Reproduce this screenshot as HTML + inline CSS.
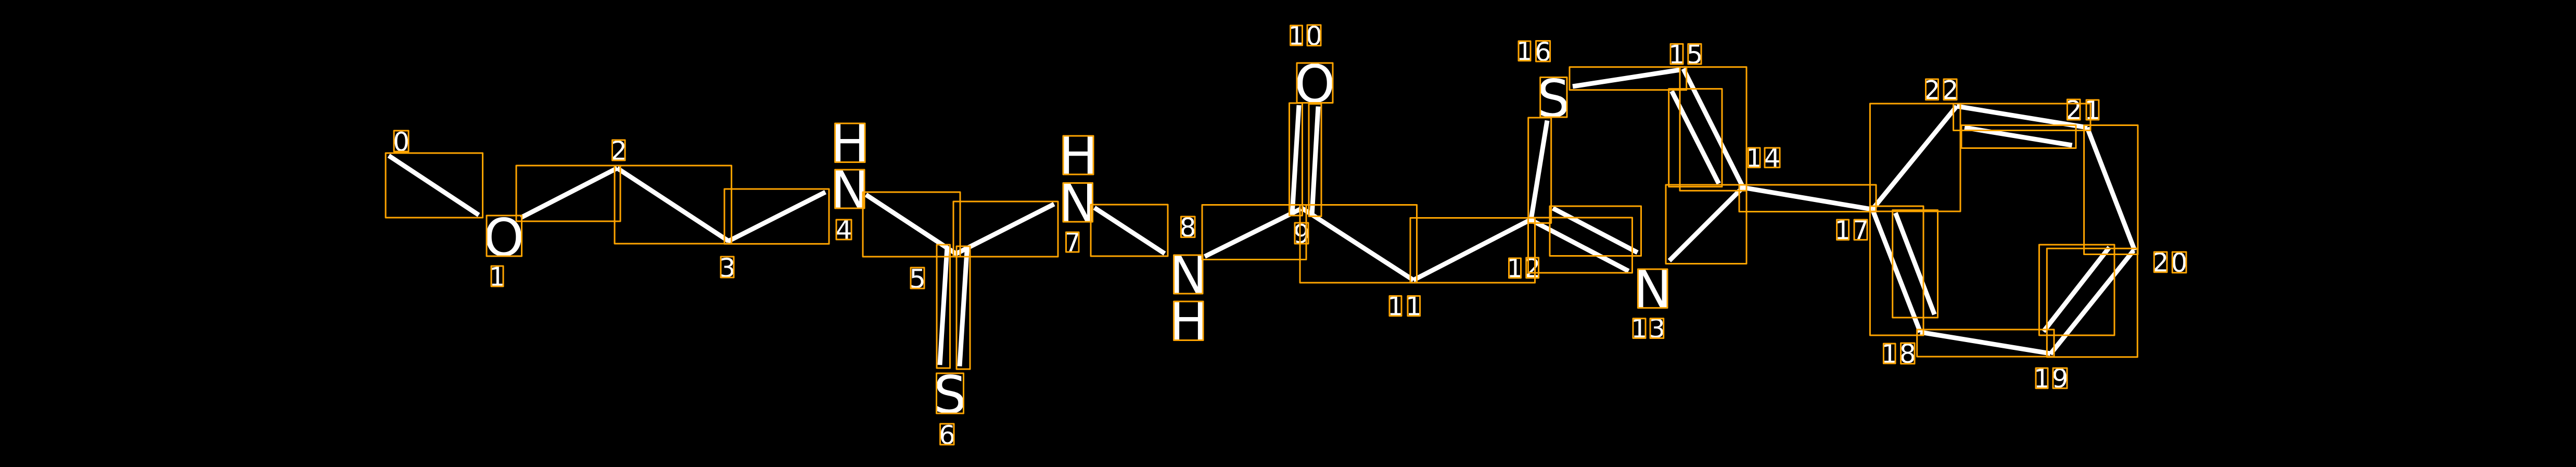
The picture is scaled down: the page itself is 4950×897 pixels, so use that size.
<!DOCTYPE html>
<html><head><meta charset="utf-8"><style>
html,body{margin:0;padding:0;background:#000;width:4950px;height:897px;overflow:hidden}
svg{display:block}
.b{stroke:#fff;stroke-width:9;fill:none}
.r rect{fill:none;stroke:#ffa500;stroke-width:3;stroke-linejoin:round}
text{font-family:"DejaVu Sans","Liberation Sans",sans-serif;fill:#fff;text-anchor:middle}
.a{font-size:100px}.d{font-size:50px}
</style></head><body>
<svg xmlns="http://www.w3.org/2000/svg" width="4950" height="897" viewBox="0 0 4950 897">
<rect width="4950" height="897" fill="#000"/>
<g class="b">
<line x1="747" y1="299" x2="920" y2="413"/>
<line x1="1001" y1="418" x2="1186" y2="323"/>
<line x1="1186" y1="323" x2="1400" y2="463"/>
<line x1="1398" y1="464" x2="1586" y2="369"/>
<line x1="1664" y1="374" x2="1838" y2="488"/>
<line x1="1836" y1="488" x2="2025.5" y2="392"/>
<line x1="1820" y1="475" x2="1806" y2="701"/>
<line x1="1858.4" y1="476" x2="1844" y2="703.5"/>
<line x1="2103" y1="399" x2="2238" y2="487"/>
<line x1="2315" y1="492.6" x2="2500" y2="401"/>
<line x1="2496" y1="202" x2="2483" y2="412"/>
<line x1="2533" y1="204.5" x2="2521" y2="414"/>
<line x1="2502" y1="400" x2="2716" y2="538"/>
<line x1="2716" y1="538" x2="2941" y2="422"/>
<line x1="2973" y1="231.5" x2="2942" y2="422"/>
<line x1="3022" y1="166" x2="3229" y2="134"/>
<line x1="3234.6" y1="132" x2="3350" y2="361"/>
<line x1="3212.4" y1="175" x2="3302.7" y2="352.6"/>
<line x1="3207.8" y1="500.7" x2="3347" y2="362"/>
<line x1="2941" y1="422" x2="3129.4" y2="520.6"/>
<line x1="2984" y1="400" x2="3146.6" y2="485"/>
<line x1="3348" y1="360" x2="3597" y2="402"/>
<line x1="3598" y1="402" x2="3760" y2="204"/>
<line x1="3760" y1="204" x2="4011" y2="245"/>
<line x1="3775" y1="245" x2="3981.6" y2="279"/>
<line x1="4010.7" y1="245" x2="4102" y2="481"/>
<line x1="4100" y1="481" x2="3940" y2="680"/>
<line x1="4053.3" y1="475" x2="3926.7" y2="636.7"/>
<line x1="3940" y1="679" x2="3690" y2="638"/>
<line x1="3598" y1="402" x2="3690" y2="638"/>
<line x1="3642.3" y1="409" x2="3717.3" y2="604"/>
</g>
<g>
<text class="a" x="968" y="491">O</text>
<text class="a" x="1633" y="310">H</text>
<text class="a" x="1633" y="399">N</text>
<text class="a" x="1825.5" y="793">S</text>
<text class="a" x="2072" y="334">H</text>
<text class="a" x="2071" y="425">N</text>
<text class="a" x="2283.5" y="563">N</text>
<text class="a" x="2284" y="652">H</text>
<text class="a" x="2526.5" y="196">O</text>
<text class="a" x="2985" y="224">S</text>
<text class="a" x="3175.5" y="590">N</text>
<text class="d" x="771" y="290">0</text>
<text class="d" x="955.5" y="549">1</text>
<text class="d" x="1189" y="307">2</text>
<text class="d" x="1397.5" y="532">3</text>
<text class="d" x="1621.5" y="459">4</text>
<text class="d" x="1763" y="553">5</text>
<text class="d" x="1820" y="853">6</text>
<text class="d" x="2061" y="483">7</text>
<text class="d" x="2282.5" y="454.6">8</text>
<text class="d" x="2501" y="467">9</text>
<text class="d" x="2491" y="86">1</text>
<text class="d" x="2525" y="86.6">0</text>
<text class="d" x="2681.5" y="605.7">1</text>
<text class="d" x="2716.8" y="605.7">1</text>
<text class="d" x="2911" y="532.7">1</text>
<text class="d" x="2944.6" y="532.7">2</text>
<text class="d" x="3150" y="648.5">1</text>
<text class="d" x="3184" y="648.5">3</text>
<text class="d" x="3370.7" y="320.6">1</text>
<text class="d" x="3405.5" y="320.6">4</text>
<text class="d" x="3222" y="122">1</text>
<text class="d" x="3256.4" y="122">5</text>
<text class="d" x="2929.5" y="115.6">1</text>
<text class="d" x="2965" y="117">6</text>
<text class="d" x="3541" y="459.6">1</text>
<text class="d" x="3575.5" y="459.6">7</text>
<text class="d" x="3630.7" y="697">1</text>
<text class="d" x="3665.8" y="697">8</text>
<text class="d" x="3923.5" y="744.5">1</text>
<text class="d" x="3958.5" y="744.5">9</text>
<text class="d" x="4151.5" y="521.7">2</text>
<text class="d" x="4187.5" y="522">0</text>
<text class="d" x="3984.7" y="229">2</text>
<text class="d" x="4021" y="229">1</text>
<text class="d" x="3712.5" y="190.6">2</text>
<text class="d" x="3747.5" y="190.6">2</text>
</g>
<g class="r">
<rect x="741" y="294" width="186.5" height="124"/>
<rect x="992" y="318" width="200" height="107"/>
<rect x="1181" y="318" width="224.6" height="150"/>
<rect x="1392" y="363" width="201" height="105.4"/>
<rect x="1658" y="369" width="187" height="124"/>
<rect x="1832" y="387" width="201" height="106"/>
<rect x="1800" y="470" width="25.5" height="237"/>
<rect x="1838" y="473" width="26" height="236"/>
<rect x="2096" y="393" width="148" height="99"/>
<rect x="2310" y="393.5" width="200" height="105"/>
<rect x="2477.5" y="198" width="25" height="216"/>
<rect x="2515" y="199.5" width="24" height="216"/>
<rect x="2498" y="393.5" width="224.5" height="149.5"/>
<rect x="2710" y="418.5" width="239.5" height="124.5"/>
<rect x="2936.7" y="226" width="44" height="202.4"/>
<rect x="3016" y="128.8" width="224.7" height="44"/>
<rect x="3228" y="128.8" width="128" height="237.5"/>
<rect x="3206.7" y="170.6" width="102.3" height="188"/>
<rect x="3201" y="355" width="155" height="151.5"/>
<rect x="2936.5" y="418" width="200" height="106"/>
<rect x="2978" y="396" width="175.5" height="95.5"/>
<rect x="3342" y="355" width="263" height="51.5"/>
<rect x="3593.4" y="199" width="173.6" height="207"/>
<rect x="3753.6" y="199" width="263.4" height="51.5"/>
<rect x="3769" y="240.5" width="220" height="44"/>
<rect x="4004.6" y="240.5" width="103.4" height="248"/>
<rect x="3933.3" y="477.3" width="174" height="208.4"/>
<rect x="3918.4" y="470" width="144.6" height="174"/>
<rect x="3683.7" y="633" width="263.3" height="52"/>
<rect x="3593.4" y="396" width="102.6" height="248"/>
<rect x="3636.7" y="403.6" width="86.8" height="206.4"/>
<rect x="935" y="414" width="67.5" height="78"/>
<rect x="1604.6" y="237" width="57.4" height="74.5"/>
<rect x="1604.6" y="326" width="56.4" height="74"/>
<rect x="1799.5" y="717" width="52" height="77"/>
<rect x="2043" y="261" width="58" height="74"/>
<rect x="2043" y="351.5" width="56.5" height="74.5"/>
<rect x="2255.6" y="490" width="55.4" height="74"/>
<rect x="2255.6" y="579" width="56.4" height="74.5"/>
<rect x="2492" y="121" width="69" height="76.5"/>
<rect x="2959.7" y="148.5" width="51.3" height="76.5"/>
<rect x="3147.4" y="517" width="56.6" height="74.4"/>
<rect x="757" y="251" width="28" height="40"/>
<rect x="944" y="511" width="23" height="39"/>
<rect x="1176.5" y="269" width="24.5" height="39"/>
<rect x="1385" y="493" width="25" height="40"/>
<rect x="1607" y="422" width="29" height="38"/>
<rect x="1750" y="514" width="26" height="40"/>
<rect x="1806.6" y="814" width="26.4" height="40"/>
<rect x="2048.5" y="446" width="24.5" height="38"/>
<rect x="2269.4" y="416" width="26.6" height="39.6"/>
<rect x="2488" y="428" width="26" height="40"/>
<rect x="2479.6" y="49" width="22.9" height="38"/>
<rect x="2512" y="48" width="26" height="39.6"/>
<rect x="2670" y="568.5" width="23" height="38.2"/>
<rect x="2705" y="568.5" width="23.6" height="38.2"/>
<rect x="2899.5" y="496" width="23" height="37.7"/>
<rect x="2932.7" y="495" width="23.9" height="38.7"/>
<rect x="3138" y="611.8" width="24" height="37.7"/>
<rect x="3171" y="611.8" width="25.7" height="37.7"/>
<rect x="3359.4" y="284" width="22.6" height="37.6"/>
<rect x="3391" y="284" width="29" height="37.6"/>
<rect x="3210" y="84.4" width="24" height="38.6"/>
<rect x="3243.8" y="84.4" width="25.2" height="38.6"/>
<rect x="2918" y="79" width="23" height="37.6"/>
<rect x="2951.5" y="78.5" width="27.1" height="39.5"/>
<rect x="3529.6" y="422" width="23" height="38.6"/>
<rect x="3563" y="422" width="25" height="38.6"/>
<rect x="3619.4" y="660" width="22.6" height="38"/>
<rect x="3652.6" y="659" width="26.4" height="39.6"/>
<rect x="3912" y="707" width="23" height="38.7"/>
<rect x="3945" y="707" width="27" height="38.7"/>
<rect x="4139.3" y="484" width="24.7" height="38.7"/>
<rect x="4174.3" y="484" width="26.7" height="39.7"/>
<rect x="3972.4" y="191" width="24.6" height="39"/>
<rect x="4009" y="192" width="24" height="38"/>
<rect x="3700.5" y="152" width="24" height="39.6"/>
<rect x="3735" y="152" width="25" height="39.6"/>
</g>
</svg>
</body></html>
